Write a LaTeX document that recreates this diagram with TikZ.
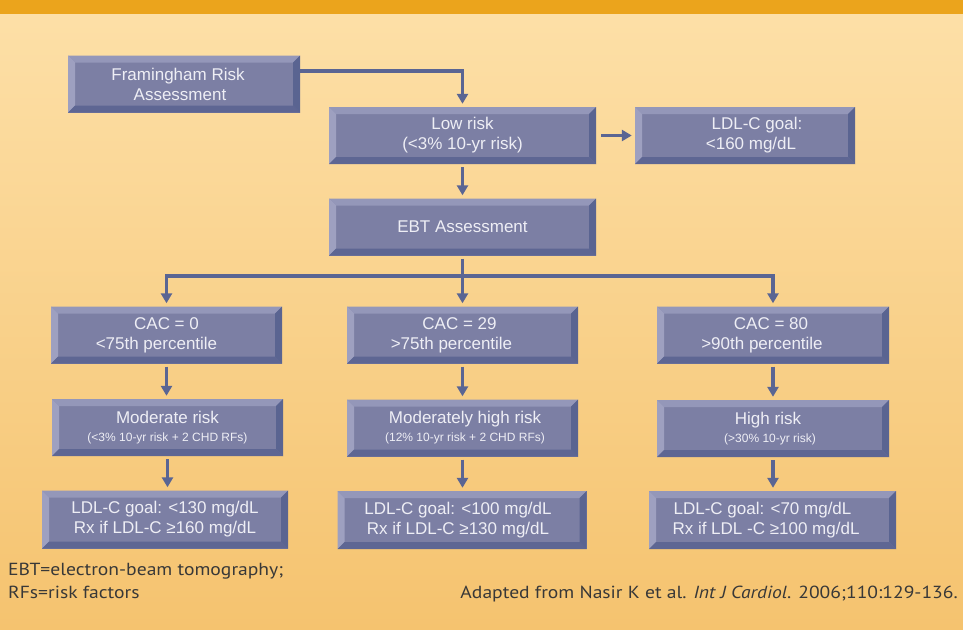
\documentclass[tikz,border=0pt]{standalone}
\usepackage{graphicx}
\usepackage{fontspec}
\setmainfont{Liberation Sans}
\newfontfamily\notefont{PT Sans}
\usetikzlibrary{arrows.meta}
\definecolor{band}{HTML}{EBA41C}
\definecolor{bgtop}{HTML}{FDE0A8}
\definecolor{bgbot}{HTML}{F5C36F}
\definecolor{face}{HTML}{7C7FA4}
\definecolor{bevtop}{HTML}{9497B9}
\definecolor{bevleft}{HTML}{9EA0C0}
\definecolor{bevright}{HTML}{5A6491}
\definecolor{bevbot}{HTML}{5E6693}
\definecolor{arr}{HTML}{5A6593}
\definecolor{txt}{HTML}{EEEEF5}
\definecolor{notec}{HTML}{383838}
\tikzset{
  bevbox/.style 2 args={rectangle, inner sep=0pt, minimum width=#1, minimum height=#2,
    fill=face, text=txt, align=center, font=\fontsize{17}{20}\selectfont,
    path picture={
      \fill[bevtop] (path picture bounding box.north west) -- (path picture bounding box.north east)
        -- ([xshift=-7pt,yshift=-7pt]path picture bounding box.north east)
        -- ([xshift=7pt,yshift=-7pt]path picture bounding box.north west) -- cycle;
      \fill[bevleft] (path picture bounding box.north west) -- (path picture bounding box.south west)
        -- ([xshift=7pt,yshift=7pt]path picture bounding box.south west)
        -- ([xshift=7pt,yshift=-7pt]path picture bounding box.north west) -- cycle;
      \fill[bevbot] (path picture bounding box.south west) -- (path picture bounding box.south east)
        -- ([xshift=-7pt,yshift=7pt]path picture bounding box.south east)
        -- ([xshift=7pt,yshift=7pt]path picture bounding box.south west) -- cycle;
      \fill[bevright] (path picture bounding box.north east) -- (path picture bounding box.south east)
        -- ([xshift=-7pt,yshift=7pt]path picture bounding box.south east)
        -- ([xshift=-7pt,yshift=-7pt]path picture bounding box.north east) -- cycle;
    }},
  conn/.style={draw=arr, line width=3.5pt},
  arrowc/.style={conn, -{Triangle[width=11pt,length=10pt]}},
  notetxt/.style={text=notec, font=\notefont\fontsize{17.5}{20}\selectfont, inner sep=0pt}
}
\newcommand{\smallline}[1]{{\fontsize{12}{14}\selectfont #1}}
\newcommand{\stretchnote}[1]{\scalebox{1.12}[1]{#1}}
\begin{document}
\begin{tikzpicture}[x=1pt,y=-1pt]
\useasboundingbox (0,0) rectangle (963,629);
\shade[top color=bgtop, bottom color=bgbot] (0,0) rectangle (963,629);
\fill[band] (0,0) rectangle (963,14);

\node[bevbox={232pt}{57pt}] (fram) at (184,84) {Framingham Risk\hspace*{12pt}\\Assessment\hspace*{8pt}};
\node[bevbox={267pt}{57pt}] (low) at (462.5,135.5) {Low risk\\(<3\% 10-yr risk)};
\node[bevbox={220pt}{57pt}] (ldl) at (745,135.5) {\hspace*{24pt}LDL-C goal:\\\hspace*{12pt}<160 mg/dL};
\node[bevbox={267pt}{57pt}] (ebt) at (462.5,227) {EBT Assessment};

\node[bevbox={231pt}{57pt}] (cac1) at (166.5,335) {CAC = 0\\\hspace*{-20pt}<75th percentile};
\node[bevbox={231pt}{57pt}] (cac2) at (462.5,335) {\hspace*{-6pt}CAC = 29\\\hspace*{-22pt}>75th percentile};
\node[bevbox={232pt}{57pt}] (cac3) at (773,335) {\hspace*{-4pt}CAC = 80\\\hspace*{-22pt}>90th percentile};

\node[bevbox={231pt}{57pt}] (risk1) at (167.5,427.5) {Moderate risk\\[-2pt]\smallline{(<3\% 10-yr risk + 2 CHD RFs)}};
\node[bevbox={231pt}{57pt}] (risk2) at (462.5,428) {\hspace*{5pt}Moderately high risk\\[-2pt]\hspace*{5pt}\smallline{(12\% 10-yr risk + 2 CHD RFs)}};
\node[bevbox={232pt}{57pt}] (risk3) at (773,428.5) {\hspace*{-10pt}High risk\\[-2pt]\hspace*{-6pt}\smallline{(>30\% 10-yr risk)}};

\node[bevbox={246pt}{58pt}] (goal1) at (165,519.5) {LDL-C goal: <130 mg/dL\\Rx if LDL-C ≥160 mg/dL};
\node[bevbox={249pt}{58pt}] (goal2) at (462,520) {\hspace*{-8pt}LDL-C goal: <100 mg/dL\\\hspace*{-8pt}Rx if LDL-C ≥130 mg/dL};
\node[bevbox={247pt}{58pt}] (goal3) at (772.5,520) {\hspace*{-20pt}LDL-C goal: <70 mg/dL\\\hspace*{-13pt}Rx if LDL -C ≥100 mg/dL};

% connectors
\draw[arrowc] ([yshift=13pt]fram.east) -| ([yshift=3pt]low.north);
\draw[arrowc] ([xshift=5pt]low.east) -- ([xshift=-3pt]ldl.west);
\draw[arrowc] ([yshift=-3pt]low.south) -- ([yshift=3pt]ebt.north);
\coordinate (br) at (462.5,276);
\draw[conn] ([yshift=-3pt]ebt.south) -- (br);
\draw[arrowc] (br) -| ([yshift=3pt]cac1.north);
\draw[arrowc] (br) -| ([yshift=3pt]cac3.north);
\draw[arrowc] (br) -- ([yshift=3pt]cac2.north);
\foreach \a/\b in {cac1/risk1,cac2/risk2,cac3/risk3,risk1/goal1,risk2/goal2,risk3/goal3}{
  \draw[arrowc] ([yshift=-3pt]\a.south) -- ([yshift=3pt]\a.south |- \b.north);
}

% notes
\node[notetxt, anchor=base west] (n1) at (8,575) {\stretchnote{EBT=electron-beam tomography;}};
\node[notetxt, anchor=base west] (n2) at (8,598) {\stretchnote{RFs=risk factors}};
\node[notetxt, anchor=base east] (n3) at (958,598) {\stretchnote{Adapted from Nasir K et al. \textit{Int J Cardiol}. 2006;110:129-136.}};
\end{tikzpicture}
\end{document}
